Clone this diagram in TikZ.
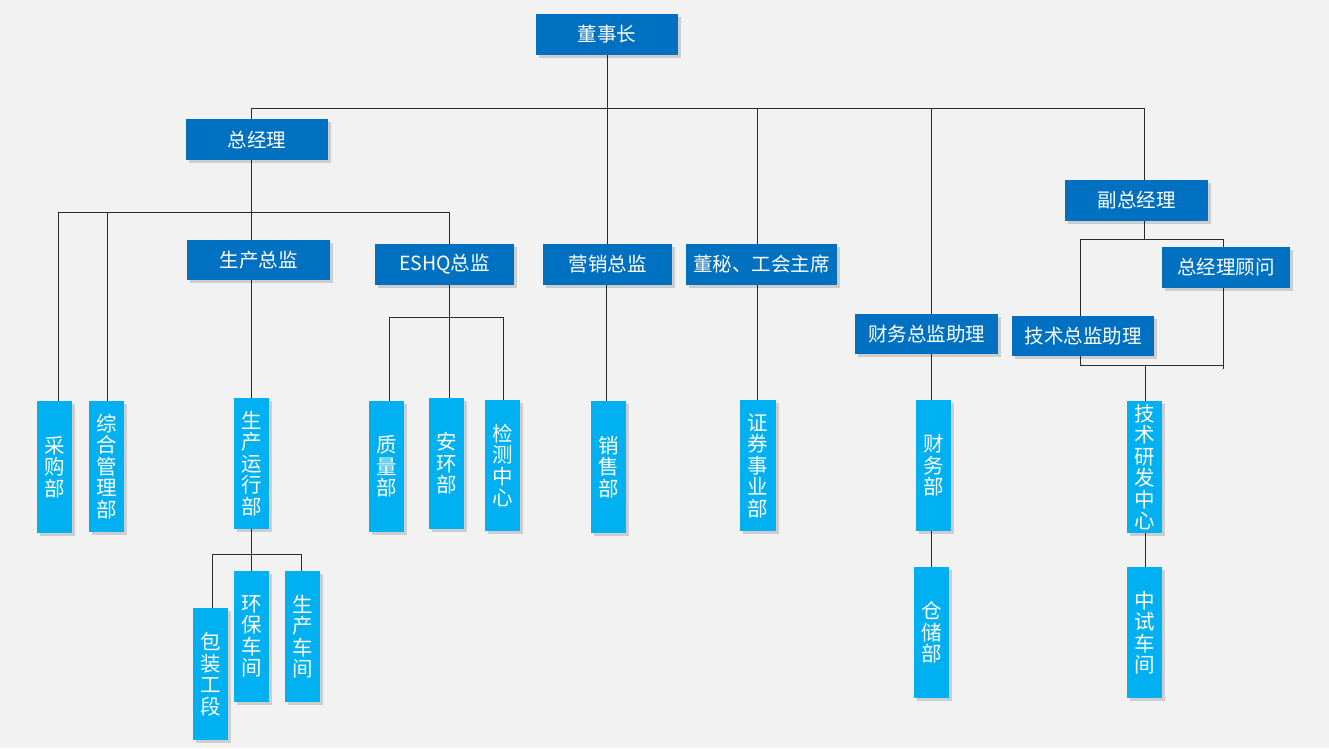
\documentclass[tikz,border=0pt]{standalone}
\usepackage{fontspec}
\newfontfamily\cjk{Noto Sans CJK SC}
\usetikzlibrary{shadows,backgrounds}
\definecolor{dblue}{HTML}{0070C0}
\definecolor{lblue}{HTML}{00B0F0}
\definecolor{bgc}{HTML}{F2F2F2}
\definecolor{lnc}{HTML}{2B2B2B}
\begin{document}
\begin{tikzpicture}[x=1pt,y=-1pt,
  shad/.style={drop shadow={shadow xshift=3pt,shadow yshift=-3pt,opacity=0.15,fill=black}},
  hbox/.style={shad,fill=dblue,text=white,inner sep=0pt,font=\cjk\fontsize{19.5}{21}\selectfont},
  vbox/.style={shad,fill=lblue,text=white,inner sep=0pt,minimum width=35pt,minimum height=131pt,align=center,font=\cjk\fontsize{20.5}{21.5}\selectfont},
  conn/.style={draw=lnc,line width=0.9pt}]
\useasboundingbox (0,0) rectangle (1329,748);
% horizontal boxes
\node[hbox,minimum width=142pt,minimum height=41pt] (dsz) at (607,34.5) {董事长};
\node[hbox,minimum width=142pt,minimum height=41pt] (zjl) at (257,139.5) {总经理};
\node[hbox,minimum width=143pt,minimum height=40pt] (sczj) at (258.5,260) {生产总监};
\node[hbox,minimum width=139pt,minimum height=41pt] (eshq) at (444.5,264.5) {ESHQ总监};
\node[hbox,minimum width=129pt,minimum height=41pt] (yxzj) at (607.5,264.5) {营销总监};
\node[hbox,minimum width=151pt,minimum height=41pt] (dm) at (761.5,264.5) {董秘、工会主席};
\node[hbox,minimum width=143pt,minimum height=41pt] (fzjl) at (1136.5,200.5) {副总经理};
\node[hbox,minimum width=128pt,minimum height=41pt] (gw) at (1226,267.5) {总经理顾问};
\node[hbox,minimum width=143pt,minimum height=40pt] (cwzl) at (926.5,334) {财务总监助理};
\node[hbox,minimum width=142pt,minimum height=40pt] (jszl) at (1083,336) {技术总监助理};
% vertical boxes
\node[vbox,minimum height=132pt] (cgb) at (54.5,467) {采\\购\\部};
\node[vbox] (zhglb) at (106.5,466.5) {综\\合\\管\\理\\部};
\node[vbox] (scyxb) at (251.5,463.5) {生\\产\\运\\行\\部};
\node[vbox] (zlb) at (386.5,466.5) {质\\量\\部};
\node[vbox] (ahb) at (446.5,463.5) {安\\环\\部};
\node[vbox] (jczx) at (502.5,465.5) {检\\测\\中\\心};
\node[vbox,minimum height=132pt] (xsb) at (608.5,467) {销\\售\\部};
\node[vbox,minimum width=36pt] (zqsyb) at (758,465.5) {证\\券\\事\\业\\部};
\node[vbox] (cwb) at (933.5,465.5) {财\\务\\部};
\node[vbox] (ccb) at (931.5,632.5) {仓\\储\\部};
\node[vbox,minimum height=132pt] (jsyfzx) at (1144.5,467) {技\\术\\研\\发\\中\\心};
\node[vbox] (zscj) at (1144.5,632.5) {中\\试\\车\\间};
\node[vbox,minimum height=132pt] (bzgd) at (210.5,674) {包\\装\\工\\段};
\node[vbox] (hbcj) at (251.5,636.5) {环\\保\\车\\间};
\node[vbox] (sccj) at (302.5,636.5) {生\\产\\车\\间};
% connectors
\begin{scope}[on background layer]
\fill[bgc] (0,0) rectangle (1329,748);
\coordinate (b1L) at (251,108);
\coordinate (b1R) at (1144,108);
\coordinate (b2L) at (58,212);
\coordinate (b2R) at (449,212);
\coordinate (zh) at (107.5,212);
\coordinate (e1) at (389,317);
\coordinate (e2) at (503,317);
\coordinate (d1) at (757,108);
\coordinate (f1) at (931,108);
\coordinate (k1) at (1080,239);
\coordinate (k2) at (1223,239);
\coordinate (k3) at (1223,365);
\coordinate (k4) at (1223,369);
\coordinate (k5) at (1145,365);
\coordinate (p1) at (212.5,554);
\coordinate (p2) at (301,554);
\coordinate (pc) at (251,554);
\draw[conn] (b1L) -- (b1R);
\draw[conn] (dsz.south) -- (dsz.south |- yxzj.north);
\draw[conn] (yxzj.south -| 606.5,0) -- (606.5,0 |- xsb.north);
\draw[conn] (b1L) -- (b1L |- b2L);
\draw[conn] (b2L) -- (b2R);
\draw[conn] (b2L) -- (b2L |- cgb.north);
\draw[conn] (zh) -- (zh |- zhglb.north);
\draw[conn] (b2R) -- (b2R |- eshq.north);
\draw[conn] (b1L |- b2L) -- (b1L |- scyxb.north);
\draw[conn] (b2R |- eshq.south) -- (b2R |- ahb.north);
\draw[conn] (e1) -- (e2);
\draw[conn] (e1) -- (e1 |- zlb.north);
\draw[conn] (e2) -- (e2 |- jczx.north);
\draw[conn] (d1) -- (d1 |- zqsyb.north);
\draw[conn] (f1) -- (f1 |- cwb.north);
\draw[conn] (f1 |- cwb.south) -- (f1 |- ccb.north);
\draw[conn] (b1R) -- (b1R |- fzjl.north);
\draw[conn] (b1R |- fzjl.south) -- (b1R |- k1);
\draw[conn] (k1) -- (k2);
\draw[conn] (k1) -- (k1 |- k3);
\draw[conn] (k2) -- (k4);
\draw[conn] (k1 |- k3) -- (k3);
\draw[conn] (k5) -- (k5 |- jsyfzx.north);
\draw[conn] (k5 |- jsyfzx.south) -- (k5 |- zscj.north);
\draw[conn] (pc |- scyxb.south) -- (pc);
\draw[conn] (p1) -- (p2);
\draw[conn] (p1) -- (p1 |- bzgd.north);
\draw[conn] (pc) -- (pc |- hbcj.north);
\draw[conn] (p2) -- (p2 |- sccj.north);
\end{scope}
\end{tikzpicture}
\end{document}
